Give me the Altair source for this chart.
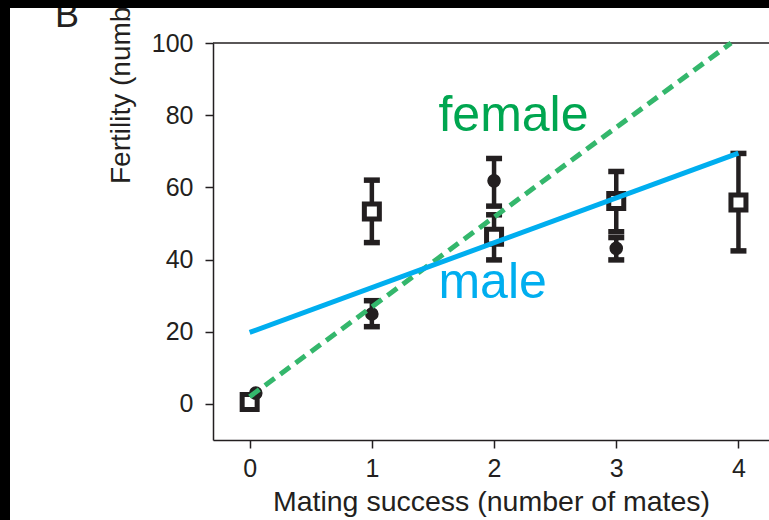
import altair as alt
import pandas as pd

# Males: open squares at each mating-success class
male_mates = [0, 1, 2, 3, 4]
male_fertility = [0.5, 53.3, 46.3, 56.2, 55.8]
male_low = [0.5, 44.7, 39.9, 47.7, 42.4]
male_high = [0.5, 62.0, 52.4, 64.4, 69.4]

# Females: filled circles (the zero class is nudged right so it stays visible)
female_mates = [0.05, 1, 2, 3]
female_fertility = [3.0, 24.9, 61.8, 43.1]
female_low = [3.0, 21.4, 54.8, 39.9]
female_high = [3.0, 28.6, 68.0, 46.1]

# Fitted regression lines
female_fit_x = [0.0, 3.94]
female_fit_y = [2.0, 100.0]
male_fit_x = [0.0, 4.0]
male_fit_y = [19.8, 69.5]

# Line labels
label_text = ["female", "male"]
label_x = [1.545, 1.545]
label_y = [75.6, 29.4]
label_color = ["#00A650", "#00AEEF"]

x_ticks = [0, 1, 2, 3, 4]
y_ticks = [0, 20, 40, 60, 80, 100]

FONT = "Liberation Sans"
INK = "#231F20"
W, H = 556, 397
PAD = {"left": 213, "top": 43, "right": 0, "bottom": 80}

males = pd.DataFrame({"x": male_mates, "y": male_fertility, "lo": male_low, "hi": male_high})
females = pd.DataFrame({"x": female_mates, "y": female_fertility, "lo": female_low, "hi": female_high})
fits = pd.concat([
    pd.DataFrame({"x": female_fit_x, "y": female_fit_y, "sex": "female"}),
    pd.DataFrame({"x": male_fit_x, "y": male_fit_y, "sex": "male"}),
])
labels = pd.DataFrame({"x": label_x, "y": label_y, "text": label_text, "color": label_color})
one = pd.DataFrame({"k": [0]})

xscale = alt.Scale(domain=[-0.3, 4.25], nice=False, zero=False)
yscale = alt.Scale(domain=[-10, 100], nice=False, zero=False)

axis_style = dict(
    grid=False, domainColor=INK, domainWidth=1.5, tickColor=INK, tickWidth=1.5,
    tickSize=8, labelFont=FONT, labelFontSize=25, labelColor=INK,
    labelFlush=False, titleFont=FONT, titleFontSize=28.5, titleFontWeight="normal",
    titleColor=INK,
)
X = lambda f="x": alt.X(f"{f}:Q", scale=xscale, axis=alt.Axis(
    values=x_ticks, title="Mating success (number of mates)", titlePadding=6,
    labelPadding=8, **axis_style))
Y = lambda f="y": alt.Y(f"{f}:Q", scale=yscale, axis=alt.Axis(
    values=y_ticks, title=None, labelPadding=12, **axis_style))

frame_top = alt.Chart(one).mark_rule(color=INK, strokeWidth=1.5).encode(y=alt.datum(100))


def with_bars(df):
    return df[df["lo"] != df["hi"]]


def bars(df):
    d = with_bars(df)
    stem = alt.Chart(d).mark_rule(color=INK, strokeWidth=4.5).encode(x=X(), y=Y("lo"), y2="hi")
    cap = dict(color=INK, orient="horizontal", size=16, thickness=5.5, opacity=1)
    lo = alt.Chart(d).mark_tick(**cap).encode(x=X(), y=Y("lo"))
    hi = alt.Chart(d).mark_tick(**cap).encode(x=X(), y=Y("hi"))
    return stem + lo + hi


squares = alt.Chart(males).mark_point(
    shape="square", size=225, filled=False, fill="white", stroke=INK, strokeWidth=5, opacity=1
).encode(x=X(), y=Y())
circles = alt.Chart(females).mark_point(
    shape="circle", size=185, filled=True, color=INK, opacity=1
).encode(x=X(), y=Y())

female_line = alt.Chart(fits).transform_filter(alt.datum.sex == "female").mark_line(
    color="#34B76C", strokeWidth=5, strokeDash=[12, 7]
).encode(x=X(), y=Y())
male_line = alt.Chart(fits).transform_filter(alt.datum.sex == "male").mark_line(
    color="#00AEEF", strokeWidth=5
).encode(x=X(), y=Y())

line_labels = alt.Chart(labels).mark_text(
    font=FONT, fontSize=50, align="left", baseline="alphabetic"
).encode(x=X(), y=Y(), text="text:N", color=alt.Color("color:N", scale=None))

panel_letter = alt.Chart(one).mark_text(
    text="B", font=FONT, fontSize=36, color=INK, align="left", baseline="alphabetic"
).encode(x=alt.value(55 - PAD["left"]), y=alt.value(27 - PAD["top"]))

y_title = alt.Chart(one).mark_text(
    text="Fertility (number of offspring)", font=FONT, fontSize=28, color=INK,
    angle=270, align="left", baseline="alphabetic"
).encode(x=alt.value(130 - PAD["left"]), y=alt.value(184 - PAD["top"]))

edge_left = alt.Chart(one).mark_rect(color="black").encode(
    x=alt.value(-PAD["left"]), x2=alt.value(10 - PAD["left"]),
    y=alt.value(-PAD["top"]), y2=alt.value(H + PAD["bottom"]))
edge_top = alt.Chart(one).mark_rect(color="black").encode(
    x=alt.value(-PAD["left"]), x2=alt.value(W),
    y=alt.value(-PAD["top"]), y2=alt.value(8 - PAD["top"]))

chart = alt.layer(
    frame_top,
    bars(males), bars(females),
    squares, circles,
    female_line, male_line,
    line_labels, panel_letter, y_title,
    edge_left, edge_top,
).properties(
    width=W, height=H, padding=PAD,
    autosize=alt.AutoSizeParams(type="none"),
    background="white",
).configure_view(stroke=None)

chart.save("out.html", embed_options={"renderer": "svg", "actions": False})
